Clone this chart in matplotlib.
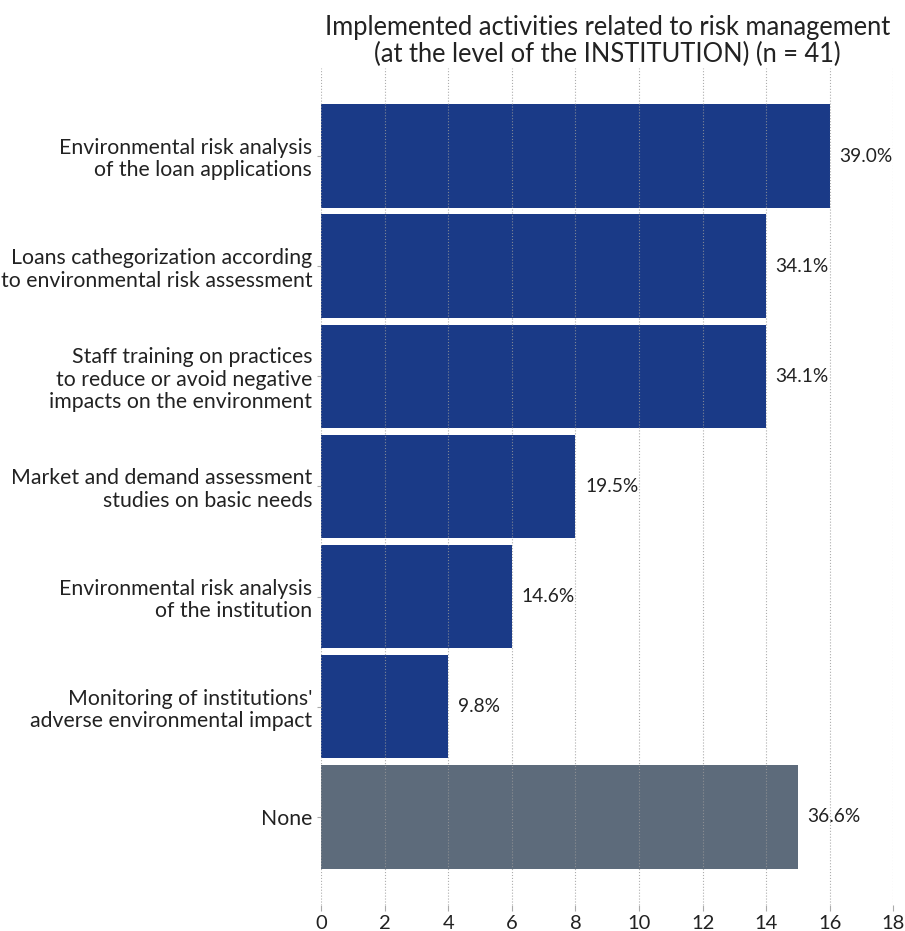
import matplotlib
matplotlib.use('Agg')
import matplotlib.pyplot as plt

plt.rcParams['font.family'] = ['Lato', 'DejaVu Sans']

# Chart data
categories = [
    "Environmental risk analysis\nof the loan applications",
    "Loans cathegorization according\nto environmental risk assessment",
    "Staff training on practices\nto reduce or avoid negative\nimpacts on the environment",
    "Market and demand assessment\nstudies on basic needs",
    "Environmental risk analysis\nof the institution",
    "Monitoring of institutions'\nadverse environmental impact",
    "None",
]
counts = [16, 14, 14, 8, 6, 4, 15]
n_total = 41
bar_colors = ["#1a3a87"] * 6 + ["#5d6b7b"]


def main():
    fig = plt.figure(figsize=(9.05, 9.31), dpi=100)
    ax = fig.add_axes([0.355, 0.028, 0.632, 0.899])

    pos = list(range(len(categories)))
    ax.barh(pos, counts, height=0.94, color=bar_colors, zorder=2)

    # percentage labels next to bars
    for p, c in zip(pos, counts):
        ax.text(c + 0.3, p, f"{c / n_total * 100:.1f}%", va="center", ha="left",
                fontsize=13.8, color="#222222")

    ax.set_yticks(pos)
    ax.set_yticklabels(categories, fontsize=15.3, color="#222222", linespacing=1.15)
    ax.set_ylim(6.8, -0.8)
    ax.set_xlim(0, 18)
    ax.set_xticks(range(0, 19, 2))
    ax.tick_params(axis="x", labelsize=14.5, length=4, color="#aaaaaa", labelcolor="#222222")
    ax.tick_params(axis="y", length=3, color="#aaaaaa")

    ax.grid(axis="x", linestyle=":", color="#999999", linewidth=0.8, alpha=0.8, zorder=3)
    ax.set_axisbelow(False)
    for s in ax.spines.values():
        s.set_visible(False)

    ax.set_title("Implemented activities related to risk management\n(at the level of the INSTITUTION) (n = 41)",
                 fontsize=18.4, color="#222222", pad=4, linespacing=1.1)

    fig.savefig("out.png", dpi=100)


if __name__ == "__main__":
    main()
